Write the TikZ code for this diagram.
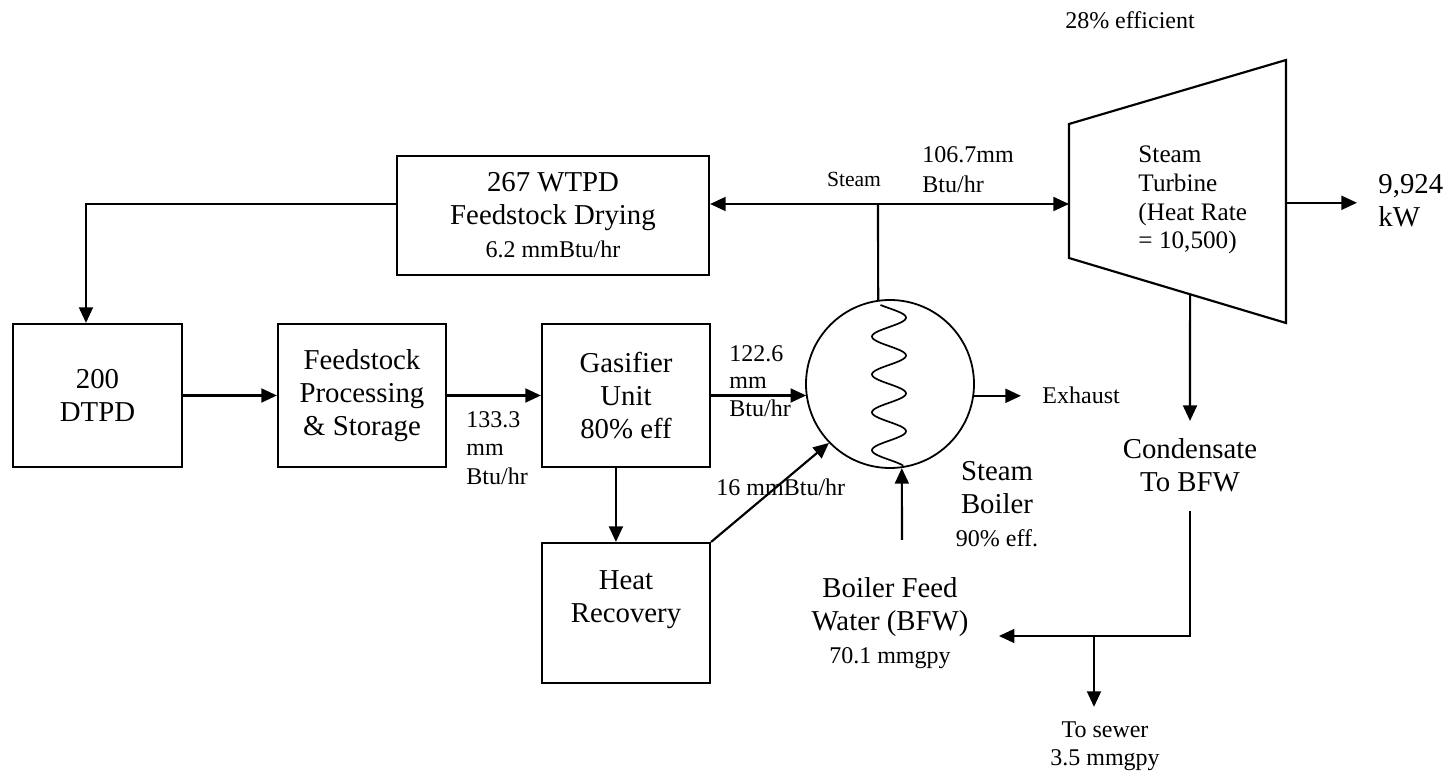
\documentclass[tikz,border=0pt]{standalone}
\usepackage{fontspec}
\setmainfont{Liberation Serif}
\usepackage{tikz}
\usetikzlibrary{arrows.meta, positioning, calc}
\newcommand{\ftxt}{\fontsize{12}{13.8}\selectfont}
\newcommand{\mtxt}{\fontsize{10.5}{12}\selectfont}
\newcommand{\stxt}{\fontsize{10}{11.5}\selectfont}
\newcommand{\xstxt}{\fontsize{9}{10.8}\selectfont}

\begin{document}
\begin{tikzpicture}[
  x=0.41667pt, y=-0.41667pt,
  >={Triangle[length=6.5pt,width=5.8pt]},
  unit/.style={draw, line width=0.9pt, align=center, font=\ftxt, inner sep=2pt,
               minimum width=70pt, minimum height=59.6pt},
  flow/.style={->, line width=0.9pt},
  pipe/.style={line width=0.9pt},
  lbl/.style={inner sep=0pt, font=\stxt, align=left, anchor=west},
  note/.style={inner sep=0pt, font=\ftxt, align=center},
]
\useasboundingbox (0,0) rectangle (1454,777);

% ----- feed train -----
\node[unit, minimum width=70.4pt] (dtpd) at (97.5,395.5) {200\\DTPD};
\node[unit] (proc) at (362,395.5) {Feedstock\\Processing\\\& Storage};
\node[unit] (gasif) at (626,395.5) {Gasifier\\Unit\\80\% eff};
\node[unit, minimum height=58.3pt] (heat) at (626,613) {Heat\\Recovery\\~};
\node[unit, minimum width=130pt, minimum height=49.6pt] (dry) at (553,215.5)
  {267 WTPD\\Feedstock Drying\\{\stxt 6.2 mmBtu/hr}};

% ----- boiler and turbine -----
\node[draw, circle, line width=0.75pt, minimum size=70pt, inner sep=0pt] (boil) at (890,384) {};
\draw[line width=0.7pt] plot[domain=0:1, samples=150, smooth]
  ({889+17*sin(1530*\x-30)}, {305+161*\x});

\coordinate (tl) at (1069,124);
\coordinate (tr) at (1286,60);
\coordinate (br) at (1286,323);
\coordinate (bl) at (1069,258);
\draw[pipe, line join=miter] (tl) -- (tr) -- (br) -- (bl) -- cycle;
\coordinate (tcond) at ($(bl)!0.558!(br)$);
\coordinate (tout) at ($(tr)!0.543!(br)$);

\node[lbl, font=\mtxt] (turb) at (1138,200) {Steam\\Turbine\\(Heat Rate\\= 10,500)};
\node[note, font=\stxt] (eff) at (1130,20) {28\% efficient};

% ----- labels -----
\node[note, font=\xstxt] (stm) at (854,179) {Steam};
\node[lbl, font=\fontsize{10}{12.5}\selectfont] (q1) at (922,169.5) {106.7mm\\Btu/hr};
\node[lbl, font=\fontsize{10}{12}\selectfont] (q2) at (466,448) {133.3\\mm\\Btu/hr};
\node[lbl] (q3) at (729,381) {122.6\\mm\\Btu/hr};
\node[lbl] (q4) at (716,487) {16 mmBtu/hr};
\node[note] (sb) at (997,504) {Steam\\Boiler\\{\stxt 90\% eff.}};
\node[lbl] (exh) at (1042,395) {Exhaust};
\node[lbl, font=\ftxt] (kw) at (1378,201) {9,924\\kW};
\node[note] (cond) at (1190,465) {Condensate\\To BFW};
\node[note] (bfw) at (890,623) {Boiler Feed\\Water (BFW)\\{\stxt 70.1 mmgpy}};
\node[note, font=\stxt] (sew) at (1105,746) {To sewer\\3.5 mmgpy};

% ----- connectors -----
\coordinate (steam) at (878,204);
\coordinate (bfwin) at (902,540);
\coordinate (split) at (1094,636);

\draw[pipe] (boil.98) -- (steam);
\draw[flow] (steam) -- (steam -| dry.east);
\draw[flow] (steam) -- (steam -| tl);
\draw[flow] (steam -| dry.west) -| ([xshift=-4.8pt]dtpd.north);
\draw[flow] (dtpd) -- (proc);
\draw[flow] (proc) -- (gasif);
\draw[flow] ([xshift=-4.2pt]gasif.south) -- ([xshift=-4.2pt]heat.north);
\draw[flow] (gasif.east) -- (gasif.east -| boil.189);
\draw[flow] (heat.north east) -- (boil.224);
\draw[flow, shorten >=8.75pt] (boil.352) -- (boil.352 -| exh.west);
\draw[flow] (bfwin) -- (boil.278);
\draw[flow, shorten >=8.75pt] (tout) -- (tout -| kw.west);
\draw[flow, shorten >=7pt] (tcond) -- (cond.north);
\draw[flow, shorten <=8pt, shorten >=12.5pt] (cond.south) |- (bfw.east |- split);
\draw[flow, shorten >=6pt] (split) -- (split |- sew.north);
\end{tikzpicture}
\end{document}
